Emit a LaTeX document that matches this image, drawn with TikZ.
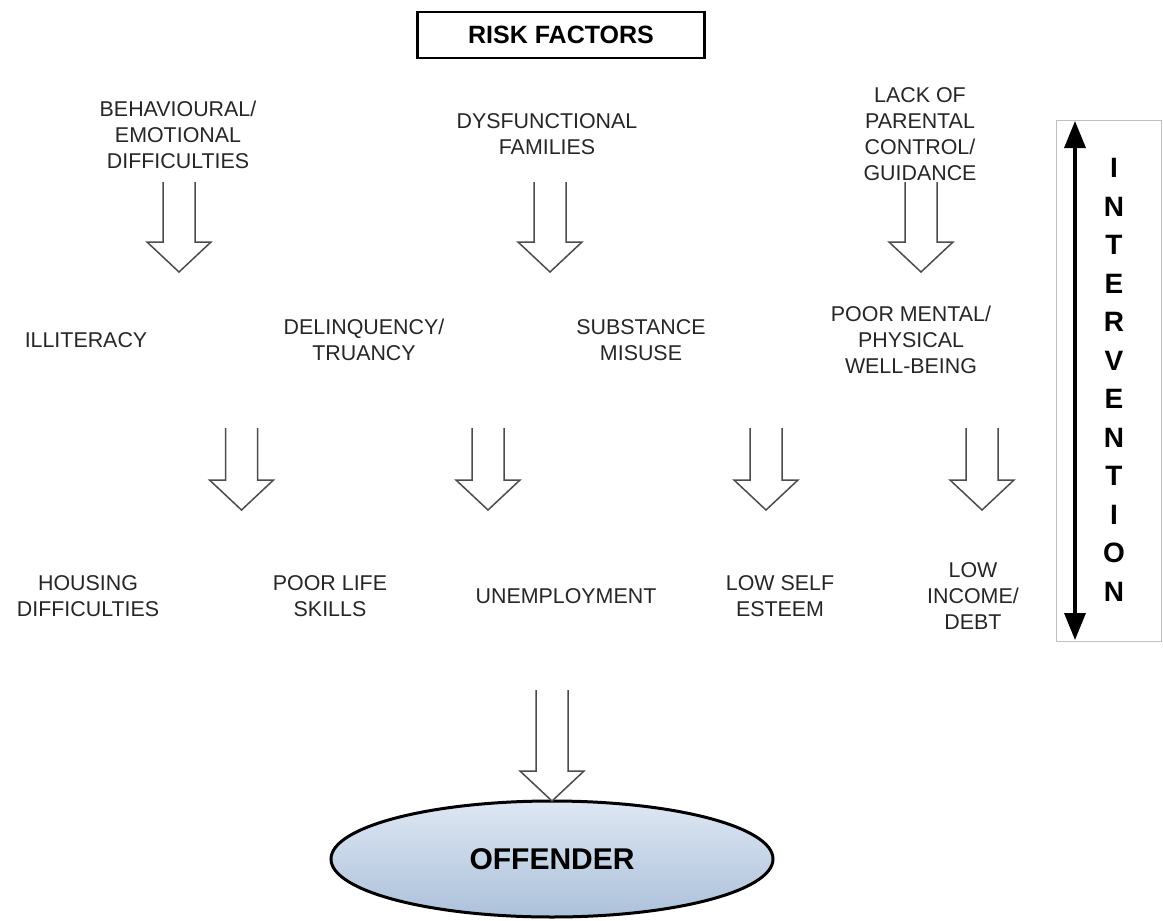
\documentclass[tikz,border=0pt]{standalone}
\usepackage{fontspec}
\setmainfont{Liberation Sans}
\usetikzlibrary{arrows.meta,shapes.geometric}

\definecolor{offlight}{RGB}{222,231,243}
\definecolor{offdark}{RGB}{172,193,218}

\begin{document}
\begin{tikzpicture}
	% Styles
	[
	x=1pt, y=-1pt,
	factor/.style={align=center, inner sep=0pt, text=black!85, font=\fontsize{21.4}{26}\selectfont},
	heading/.style={draw, line width=2.4pt, inner sep=0pt, minimum width=287, minimum height=46, font=\bfseries\fontsize{25}{30}\selectfont},
	offender/.style={ellipse, draw, line width=3pt, inner sep=0pt, minimum width=442, minimum height=116, top color=offlight, bottom color=offdark, font=\bfseries\fontsize{30}{36}\selectfont},
	letters/.style={align=center, inner sep=0pt, font=\bfseries\fontsize{28}{38.5}\selectfont},
	hollow/.style={draw=black!70, line width=1.5pt, fill=white, line join=miter},
	pics/flow/.style={code={
		\draw[hollow] (-16,0) -- (-16,#1) -- (-32,#1) -- (0,#1+30) -- (32,#1) -- (16,#1) -- (16,0);
	}},
	]
	\useasboundingbox (0,0) rectangle (1163,921);

	% Heading
	\node at (561,35)	(risk)	[heading] {RISK FACTORS\hspace{23pt}};

	% Risk factors, top row
	\node at (178,134.5)	(behav)	[factor] {BEHAVIOURAL/\\EMOTIONAL\\DIFFICULTIES};
	\node at (547,134.5)	(dysf)	[factor] {DYSFUNCTIONAL\\FAMILIES};
	\node at (920,134.5)	(lack)	[factor] {LACK OF\\PARENTAL\\CONTROL/\\GUIDANCE};

	% Middle row
	\node at (86,340)	(illit)	[factor] {ILLITERACY};
	\node at (364,340)	(delinq)	[factor] {DELINQUENCY/\\TRUANCY};
	\node at (641,340)	(subst)	[factor] {SUBSTANCE\\MISUSE};
	\node at (911,340)	(health)	[factor] {POOR MENTAL/\\PHYSICAL\\WELL-BEING};

	% Bottom row
	\node at (88,596.5)	(housing)	[factor] {HOUSING\\DIFFICULTIES};
	\node at (330,596.5)	(skills)	[factor] {POOR LIFE\\SKILLS};
	\node at (566,596.5)	(unempl)	[factor] {UNEMPLOYMENT};
	\node at (780,596.5)	(esteem)	[factor] {LOW SELF\\ESTEEM};
	\node at (973,596.5)	(income)	[factor] {LOW\\INCOME/\\DEBT};

	% Outcome
	\node at (552,859)	(offender)	[offender] {OFFENDER};

	% Block arrows
	\pic at (179,182) {flow=60};
	\pic at (550,182) {flow=60};
	\pic at (921,182) {flow=60};
	\pic at (241.5,428) {flow=52};
	\pic at (488,428) {flow=52};
	\pic at (766,428) {flow=52};
	\pic at (982,428) {flow=52};
	\pic at (552,690) {flow=81};

	% Intervention
	\draw[black!25, line width=1pt] (1056,120) rectangle (1161,641);
	\coordinate (itop) at (1075,121);
	\coordinate (ibot) at (1075,640);
	\draw[line width=3.5pt, {Triangle[length=27pt,width=21pt]}-{Triangle[length=27pt,width=21pt]}] (itop) -- (ibot);
	\node at (1114,380)	(interv)	[letters] {I\\N\\T\\E\\R\\V\\E\\N\\T\\I\\O\\N};

\end{tikzpicture}
\end{document}
